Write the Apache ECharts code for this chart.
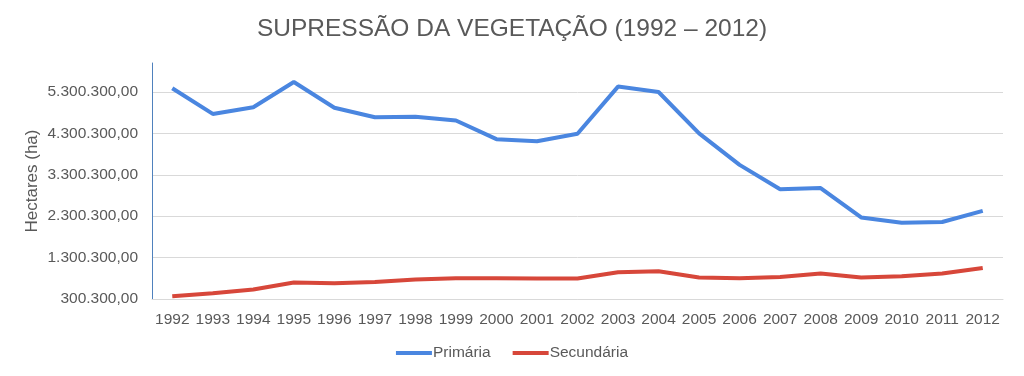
<!DOCTYPE html>
<html>
<head>
<meta charset="utf-8">
<script src="https://cdn.jsdelivr.net/npm/echarts@6/dist/echarts.min.js"></script>
<style>
  html, body { margin: 0; padding: 0; background: #fff; }
  #chart { width: 1024px; height: 376px; }
</style>
</head>
<body>
<div id="chart"></div>
<script>
var years = ["1992","1993","1994","1995","1996","1997","1998","1999","2000","2001","2002",
             "2003","2004","2005","2006","2007","2008","2009","2010","2011","2012"]

var primaria = [5390000, 4770000, 4930000, 5540000, 4920000, 4690000, 4700000, 4610000, 4160000, 4110000, 4290000,
                5430000, 5300000, 4300000, 3540000, 2950000, 2980000, 2270000, 2140000, 2160000, 2430000]

var secundaria = [365000, 438000, 528000, 697000, 680000, 712000, 770000, 800000, 800000, 794000, 794000,
                  946000, 970000, 818000, 800000, 832000, 915000, 818000, 849000, 915000, 1050000]

var yMin = 300300
var yMax = 6000000
var yStep = 1000000

function fmtBR(v) {
    // 5300300 -> 5.300.300,00
    var s = Math.round(v).toString()
    s = s.replace(/\B(?=(\d{3})+(?!\d))/g, ".")
    return s + ",00"
}

var chart = echarts.init(document.getElementById("chart"))
var font = "'Liberation Sans', Arial, sans-serif"
var option = {
    animation: false,
    textStyle: { fontFamily: font },
    title: {
        text: "SUPRESSÃO DA VEGETAÇÃO (1992 – 2012)",
        left: "center",
        top: 12,
        textStyle: { fontSize: 24.5, fontWeight: "normal", color: "#595959", fontFamily: font }
    },
    legend: {
        bottom: 10,
        left: "center",
        itemWidth: 36,
        itemHeight: 4,
        itemGap: 22,
        icon: "rect",
        textStyle: { fontSize: 15.5, color: "#595959", fontFamily: font, padding: [0, 0, 0, -4] },
        data: ["Primária", "Secundária"]
    },
    grid: {
        left: 152,
        right: 21,
        top: 63,
        bottom: 77
    },
    xAxis: {
        type: "category",
        data: years,
        boundaryGap: true,
        axisLine: { show: true, lineStyle: { color: "#d9d9d9", width: 1 } },
        axisTick: { show: false },
        axisLabel: { fontSize: 15.5, color: "#595959", margin: 13, interval: 0 }
    },
    yAxis: {
        type: "value",
        min: yMin,
        max: yMax,
        interval: yStep,
        name: "Hectares (ha)",
        nameLocation: "middle",
        nameGap: 111,
        nameMoveOverlap: false,
        nameTextStyle: { fontSize: 17, color: "#595959" },
        axisLine: { show: true, lineStyle: { color: "#4f81bd", width: 1 } },
        axisTick: { show: false },
        axisLabel: {
            fontSize: 15.5, color: "#595959", margin: 14, showMaxLabel: false,
            formatter: function (v) { return v === yMax ? "" : fmtBR(v) }
        },
        splitLine: { show: true, showMaxLine: false, lineStyle: { color: "#d9d9d9", width: 1 } }
    },
    series: [
        {
            name: "Primária",
            type: "line",
            data: primaria,
            symbol: "none",
            itemStyle: { color: "#4a86e0" },
            lineStyle: { color: "#4a86e0", width: 4 }
        },
        {
            name: "Secundária",
            type: "line",
            data: secundaria,
            symbol: "none",
            itemStyle: { color: "#d7473a" },
            lineStyle: { color: "#d7473a", width: 4 }
        }
    ]
}
chart.setOption(option)
</script>
</body>
</html>
